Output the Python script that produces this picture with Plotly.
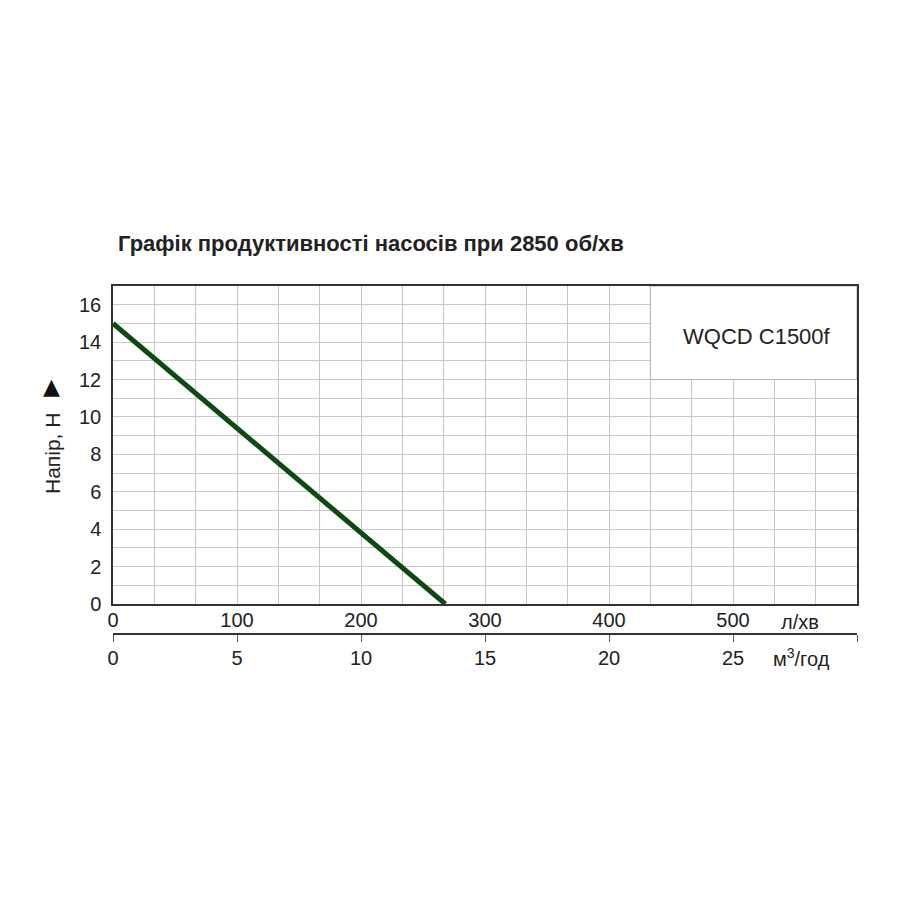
import plotly.graph_objects as go

# Data
flow_lpm = [0, 268]          # л/хв
head_m = [15, 0]             # Напір, Н
lpm_ticks = [0, 100, 200, 300, 400, 500]
m3h_ticks = [0, 5, 10, 15, 20, 25]
m3h_max = 30
y_ticks = [0, 2, 4, 6, 8, 10, 12, 14, 16]
title_text = "Графік продуктивності насосів при 2850 об/хв"
model_text = "WQCD C1500f"

FONT = "Liberation Sans, Arial, sans-serif"
TXT = "#222222"
OFF = 8  # page body margin

fig = go.Figure()
fig.add_trace(go.Scatter(x=flow_lpm, y=head_m, mode="lines",
                         line=dict(color="#0d4a12", width=5),
                         xaxis="x", yaxis="y", showlegend=False, hoverinfo="skip"))
# invisible trace for the secondary (m³/год) axis
fig.add_trace(go.Scatter(x=[0, m3h_max], y=[0, 0], mode="lines",
                         line=dict(width=0), opacity=0, xaxis="x2", yaxis="y",
                         showlegend=False, hoverinfo="skip"))

W, H = 900, 900
left, right = 113 - OFF, 857 - OFF
top, plot_bottom, axis2_y = 286 - OFF, 604 - OFF, 634 - OFF
ydom0 = (axis2_y - plot_bottom) / (axis2_y - top)


def px(p):
    return (p - OFF - left) / (right - left)


def py(p):
    return (axis2_y - (p - OFF)) / (axis2_y - top)


fig.update_layout(
    width=W, height=H,
    margin=dict(l=left, r=W - right, t=top, b=H - axis2_y, pad=0),
    paper_bgcolor="white", plot_bgcolor="white",
    font=dict(family=FONT, size=20, color=TXT),
    xaxis=dict(range=[0, 600], tickvals=lpm_ticks, ticktext=[str(v) for v in lpm_ticks],
               showgrid=True, gridcolor="#c8c8c8", gridwidth=1,
               minor=dict(dtick=100 / 3, tick0=0, showgrid=True, gridcolor="#c8c8c8", gridwidth=1),
               showline=True, linecolor="#333333", linewidth=1.5, mirror=True,
               ticks="", zeroline=False, anchor="y", ticklabelstandoff=-3,
               tickfont=dict(size=20, color=TXT, family=FONT)),
    xaxis2=dict(range=[0, m3h_max], overlaying="x", anchor="free", position=0, side="bottom",
                tickvals=m3h_ticks, ticktext=[str(v) for v in m3h_ticks],
                showgrid=False, zeroline=False, showline=True, linecolor="#333333", linewidth=1.5,
                ticks="outside", ticklen=7, tickcolor="#555555", tickwidth=1,
                minor=dict(tick0=0, dtick=m3h_max, ticks="outside", ticklen=7,
                           tickcolor="#555555", tickwidth=1, showgrid=False),
                ticklabelstandoff=-1,
                tickfont=dict(size=20, color=TXT, family=FONT)),
    yaxis=dict(range=[0, 17], domain=[ydom0, 1], tickvals=y_ticks,
               showgrid=True, gridcolor="#c8c8c8", gridwidth=1,
               minor=dict(dtick=1, tick0=0, showgrid=True, gridcolor="#c8c8c8", gridwidth=1),
               showline=True, linecolor="#333333", linewidth=1.5, mirror=True,
               ticks="", zeroline=False, ticklabelstandoff=6,
               tickfont=dict(size=20, color=TXT, family=FONT)),
)

# model name box (white area top-right)
fig.add_shape(type="rect", xref="x", yref="y", x0=1300 / 3, x1=600, y0=12, y1=17,
              fillcolor="white", line=dict(color="#b0b0b0", width=1), layer="above")


def note(x, y, text, size, **kw):
    fig.add_annotation(x=px(x), y=py(y), xref="paper", yref="paper", text=text,
                       showarrow=False, xanchor=kw.pop("xanchor", "center"),
                       yanchor="middle", font=dict(size=size, color=kw.pop("color", TXT),
                                                   family=kw.pop("family", FONT)), **kw)


note(757, 336, model_text, 22)
note(116, 243, "<b>" + title_text + "</b>", 22, xanchor="left")
note(52, 454, "Напір, Н", 21, textangle=-90)
note(51, 386, "▲", 22, color="#111111", family="DejaVu Sans")
note(800, 622, "л/хв", 20)
note(801, 657, "м<sup>3</sup>/год", 20)

fig.write_html("out.html")
